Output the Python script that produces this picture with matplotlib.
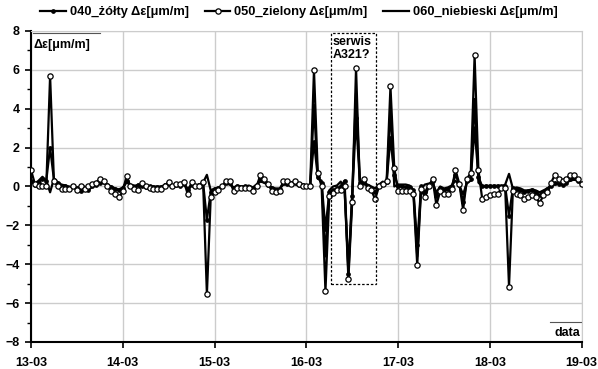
import numpy as np
import matplotlib
matplotlib.use("Agg")
import matplotlib.pyplot as plt
from matplotlib.patches import Rectangle

plt.rcParams['font.family'] = ['Liberation Sans', 'DejaVu Sans']
plt.rcParams['font.weight'] = 'bold'

# hourly readings, 13-03 00:00 .. 19-03 00:00
zolty_040 = [0.3, 0.1, 0.2, 0.4, 0.3, 2.0, 0.35, 0.2, 0.0, 0.05, -0.1, 0.0, -0.1, -0.25, -0.1, -0.2, 0.0, 0.1, 0.2, 0.25, 0.1, -0.05, -0.15, -0.2,
             -0.1, 0.3, 0.05, -0.05, 0.1, 0.05, -0.05, 0.0, -0.05, -0.05, -0.05, 0.1, 0.15, 0.05, 0.1, 0.05, 0.15, -0.2, 0.1, 0.05, 0.1, 0.2, -1.7, -0.3,
             -0.15, -0.1, 0.0, 0.2, 0.2, -0.1, 0.0, -0.05, 0.0, -0.05, -0.15, 0.05, 0.4, 0.3, 0.1, -0.1, -0.2, -0.15, 0.2, 0.15, 0.2, 0.25, 0.1, 0.1,
             0.05, 0.1, 2.3, 0.5, 0.2, -2.2, -0.3, -0.2, -0.1, 0.0, 0.3, -4.5, -0.5, 3.5, 0.2, 0.3, 0.05, -0.1, -0.3, 0.05, 0.2, 0.25, 2.5, 0.6,
             0.0, 0.0, -0.05, -0.05, -0.2, -3.0, 0.0, -0.3, 0.05, 0.3, -0.5, -0.1, -0.2, -0.15, 0.0, 0.6, 0.1, -0.8, 0.3, 0.4, 3.0, 0.5, 0.0, 0.0,
             0.05, 0.0, 0.05, 0.0, 0.0, -1.5, -0.1, -0.15, -0.2, -0.3, -0.25, -0.2, -0.3, -0.45, -0.3, -0.15, 0.0, 0.2, 0.15, 0.1, 0.2, 0.4, 0.45, 0.3,
             0.15]
zielony_050 = [0.85, 0.15, 0.05, 0.0, 0.0, 5.7, 0.3, 0.0, -0.15, -0.15, -0.15, 0.0, -0.2, 0.05, -0.15, 0.0, 0.15, 0.2, 0.4, 0.3, 0.0, -0.25, -0.4, -0.55,
               -0.25, 0.55, 0.0, -0.15, -0.2, 0.2, 0.0, -0.1, -0.15, -0.15, -0.15, 0.05, 0.25, 0.0, 0.15, 0.15, 0.25, -0.4, 0.25, 0.0, 0.0, 0.25, -5.55, -0.55,
               -0.3, -0.2, 0.0, 0.3, 0.3, -0.25, -0.1, -0.1, -0.1, -0.1, -0.25, 0.0, 0.6, 0.4, 0.15, -0.25, -0.3, -0.25, 0.3, 0.3, 0.15, 0.3, 0.15, 0.0,
               0.0, 0.0, 6.0, 0.7, 0.0, -5.4, -0.5, -0.35, -0.2, -0.2, 0.0, -4.75, -0.8, 6.1, 0.0, 0.4, -0.1, -0.2, -0.65, 0.0, 0.15, 0.3, 5.15, 0.95,
               -0.25, -0.25, -0.25, -0.25, -0.4, -4.05, -0.15, -0.55, 0.0, 0.4, -0.95, -0.25, -0.4, -0.4, -0.15, 0.85, 0.15, -1.2, 0.4, 0.7, 6.75, 0.85, -0.65, -0.55,
               -0.45, -0.4, -0.4, -0.1, -0.1, -5.15, -0.25, -0.4, -0.45, -0.65, -0.55, -0.45, -0.55, -0.85, -0.45, -0.3, 0.2, 0.6, 0.4, 0.3, 0.4, 0.6, 0.6, 0.4,
               0.15]
niebieski_060 = [0.2, 0.15, 0.3, 0.5, 0.3, -0.3, 0.4, 0.2, 0.1, 0.05, 0.0, -0.05, -0.05, -0.15, 0.0, -0.15, 0.0, 0.05, 0.15, 0.2, 0.05, 0.0, -0.1, -0.15,
                 -0.05, 0.2, 0.1, 0.05, 0.05, 0.1, 0.0, 0.0, 0.0, 0.0, 0.0, 0.05, 0.1, 0.05, 0.1, 0.1, 0.1, -0.1, 0.05, 0.05, 0.1, 0.2, 0.6, -0.2,
                 -0.1, -0.05, 0.0, 0.15, 0.1, -0.05, 0.05, 0.0, 0.0, 0.05, -0.05, 0.1, 0.25, 0.2, 0.05, -0.05, -0.1, -0.1, 0.1, 0.1, 0.15, 0.1, 0.05, 0.0,
                 0.0, -0.1, 4.2, 0.4, 0.3, -3.6, -0.2, 0.0, 0.05, 0.25, -0.2, -4.2, -0.3, 4.8, 0.3, 0.1, 0.1, 0.0, -0.1, 0.1, 0.25, 0.15, 4.0, 0.0,
                 0.1, 0.1, 0.1, 0.05, -0.2, -3.6, -0.1, 0.1, 0.15, 0.2, -0.3, 0.0, -0.1, -0.05, 0.05, 0.3, 0.05, -0.4, 0.2, 0.3, 4.5, 0.2, 0.0, 0.05,
                 0.0, 0.05, 0.0, 0.0, 0.1, 0.65, -0.1, -0.05, -0.1, -0.2, -0.2, -0.15, -0.2, -0.3, -0.2, -0.1, 0.05, 0.1, 0.15, 0.1, 0.2, 0.3, 0.35, 0.3,
                 0.15]
dni = ["13-03", "14-03", "15-03", "16-03", "17-03", "18-03", "19-03"]

t = np.arange(len(zielony_050)) / 24.0

fig = plt.figure(figsize=(5.98, 3.69), dpi=100)
ax = fig.add_axes([0.0518, 0.0732, 0.9209, 0.8428])

ax.plot(t, niebieski_060, color="black", lw=1.6, label="060_niebieski Δε[μm/m]", zorder=3)
ax.plot(t, zolty_040, color="black", lw=1.6, marker="o", ms=2.4, label="040_żółty Δε[μm/m]", zorder=4)
ax.plot(t, zielony_050, color="black", lw=1.6, marker="o", ms=3.8, mfc="white", mec="black", mew=0.9,
        label="050_zielony Δε[μm/m]", zorder=5)

ax.set_xlim(0, 6)
ax.set_ylim(-8, 8)
ax.set_xticks(range(7))
ax.set_xticklabels(dni)
ax.set_yticks(range(-8, 9, 2))
ax.set_yticks(range(-8, 9, 1), minor=True)
ax.tick_params(axis="both", labelsize=9, direction="out", length=4, width=1.2)
ax.tick_params(axis="x", pad=7)
ax.tick_params(axis="y", pad=4)
ax.tick_params(axis="y", which="minor", length=3, width=1)
ax.grid(True, color="#cccccc", lw=1)
ax.set_axisbelow(True)
for s in ["top", "right"]:
    ax.spines[s].set_color("#cccccc")
for s in ["left", "bottom"]:
    ax.spines[s].set_linewidth(1.5)

# axis captions in the corners
ax.plot([0.02, 0.75], [7.9, 7.9], color="#555555", lw=0.8, clip_on=False)
ax.text(0.03, 7.3, "Δε[μm/m]", fontsize=9, fontweight="bold", va="center", ha="left")
ax.plot([5.66, 6.0], [-6.98, -6.98], color="#555555", lw=0.8)
ax.text(5.98, -7.55, "data", fontsize=9, fontweight="bold", va="center", ha="right")

# service window
ax.add_patch(Rectangle((3.265, -5.0), 0.49, 12.9, fill=False, ls=(0, (2, 1.5)), lw=0.9, ec="black", zorder=6))
ax.text(3.29, 7.75, "serwis\nA321?", fontsize=9, fontweight="bold", va="top", ha="left", linespacing=1.1)

h, l = ax.get_legend_handles_labels()
order = [1, 2, 0]
fig.legend([h[i] for i in order], [l[i] for i in order], loc="upper center", bbox_to_anchor=(0.5, 1.015),
           ncol=3, frameon=False, handlelength=2.0, handletextpad=0.3, columnspacing=1.2,
           prop={"weight": "bold", "size": 9.3})

fig.savefig("out.png", dpi=100)
